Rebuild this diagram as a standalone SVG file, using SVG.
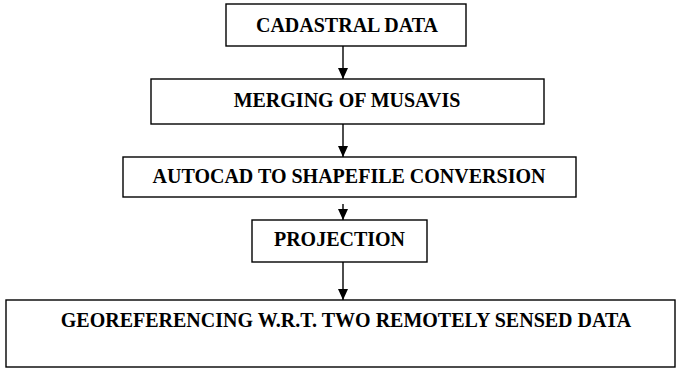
<svg xmlns="http://www.w3.org/2000/svg" width="677" height="368" viewBox="0 0 677 368">
  <style>
    .box { fill: #ffffff; stroke: #000000; stroke-width: 1.4; }
    .lbl { font-family: 'Liberation Serif', 'Times New Roman', serif; font-weight: bold; font-size: 20px; fill: #000000; text-anchor: middle; }
    .edge { stroke: #000000; stroke-width: 1.4; fill: none; marker-end: url(#arrow); }
  </style>
  <defs>
    <marker id="arrow" markerUnits="userSpaceOnUse" markerWidth="11" markerHeight="10" refX="11" refY="5" orient="auto" viewBox="0 0 11 10">
      <path d="M0,0 L11,5 L0,10 Z" fill="#000000"/>
    </marker>
  </defs>
  <rect width="677" height="368" fill="#ffffff"/>

  <g id="connectors">
    <line class="edge" x1="343" y1="46" x2="343" y2="79"/>
    <line class="edge" x1="343" y1="124" x2="343" y2="157"/>
    <line class="edge" x1="343" y1="204" x2="343" y2="220"/>
    <line class="edge" x1="343" y1="262" x2="343" y2="300"/>
  </g>

  <g id="cadastral-data">
    <rect class="box" x="226" y="4" width="240" height="42"/>
    <text class="lbl" x="347" y="32">CADASTRAL DATA</text>
  </g>

  <g id="merging-musavis">
    <rect class="box" x="151" y="79" width="393" height="45"/>
    <text class="lbl" x="347" y="107">MERGING OF MUSAVIS</text>
  </g>

  <g id="autocad-shapefile">
    <rect class="box" x="123" y="157" width="453" height="40"/>
    <text class="lbl" x="349" y="183">AUTOCAD TO SHAPEFILE CONVERSION</text>
  </g>

  <g id="projection">
    <rect class="box" x="252" y="220" width="175" height="42"/>
    <text class="lbl" x="339.5" y="246">PROJECTION</text>
  </g>

  <g id="georeferencing">
    <rect class="box" x="6" y="300" width="669" height="67"/>
    <text class="lbl" x="346" y="327">GEOREFERENCING W.R.T. TWO REMOTELY SENSED DATA</text>
  </g>
</svg>
